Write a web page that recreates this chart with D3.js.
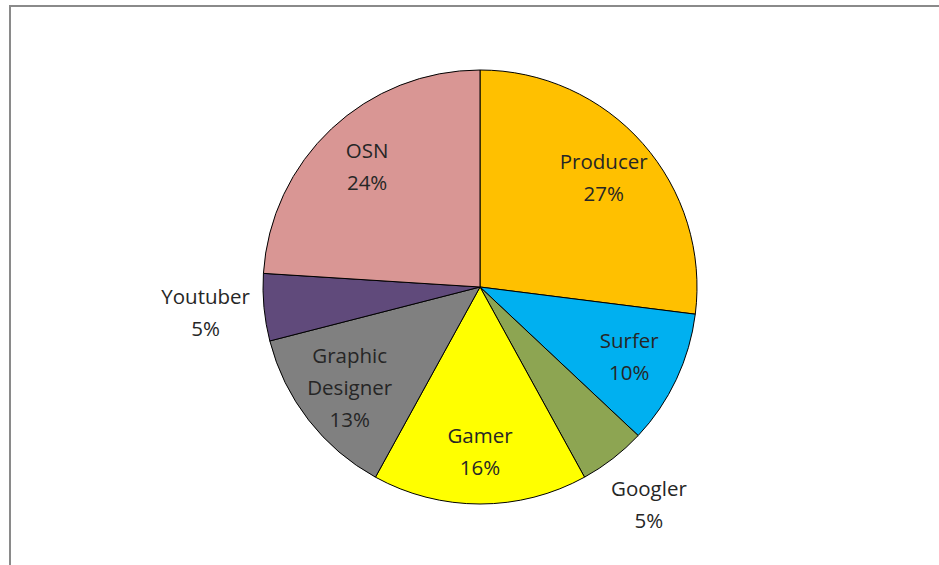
<!DOCTYPE html>
<html lang="en">

<head>
    <meta charset="UTF-8">
    <title>Pie chart</title>
    <style>
        body { margin: 0; background: #fff; }
        svg { display: block; }
    </style>
</head>

<body>
    <script src="https://cdn.jsdelivr.net/npm/d3@7"></script>
    <script>
        const svg_w = 939;
        const svg_h = 565;

        const categories = ['Producer', 'Surfer', 'Googler', 'Gamer', 'Graphic Designer', 'Youtuber', 'OSN'];
        const percents = [27, 10, 5, 16, 13, 5, 24];
        const colors = ['#FFC000', '#00B0F0', '#8DA552', '#FFFF00', '#808080', '#604A7B', '#D99694'];

        const cx = 480, cy = 287, radius = 217;

        const svg = d3.select('body')
            .append('svg')
            .attr('width', svg_w)
            .attr('height', svg_h);

        // chart frame (only top and left edges are visible in the crop)
        svg.append('rect')
            .attr('x', 10)
            .attr('y', 6)
            .attr('width', 1000)
            .attr('height', 1000)
            .attr('fill', 'none')
            .attr('stroke', '#8a8a8a')
            .attr('stroke-width', 2);

        const pie = d3.pie().sort(null).value(d => d);
        const arcs = pie(percents);

        const arc = d3.arc().innerRadius(0).outerRadius(radius);
        const innerLabel = d3.arc().innerRadius(radius * 0.76).outerRadius(radius * 0.76);
        const outerLabel = d3.arc().innerRadius(radius * 1.27).outerRadius(radius * 1.27);

        const g = svg.append('g').attr('transform', `translate(${cx},${cy})`);

        g.selectAll('path')
            .data(arcs)
            .enter()
            .append('path')
            .attr('d', arc)
            .attr('fill', (d, i) => colors[i])
            .attr('stroke', '#000')
            .attr('stroke-width', 1);

        const lineH = 32;

        arcs.forEach((d, i) => {
            const outside = d.data < 6;
            const [x, y] = outside ? outerLabel.centroid(d) : innerLabel.centroid(d);
            const lines = categories[i].split(' ').concat([d.data + '%']);
            const text = g.append('text')
                .attr('text-anchor', 'middle')
                .attr('font-family', '"Open Sans", sans-serif')
                .attr('font-size', 20.5)
                .attr('fill', '#262626');
            const top = y - (lines.length - 1) * lineH / 2;
            lines.forEach((t, k) => {
                text.append('tspan')
                    .attr('x', x)
                    .attr('y', top + k * lineH)
                    .attr('dy', '0.35em')
                    .text(t);
            });
        });
    </script>
</body>

</html>
